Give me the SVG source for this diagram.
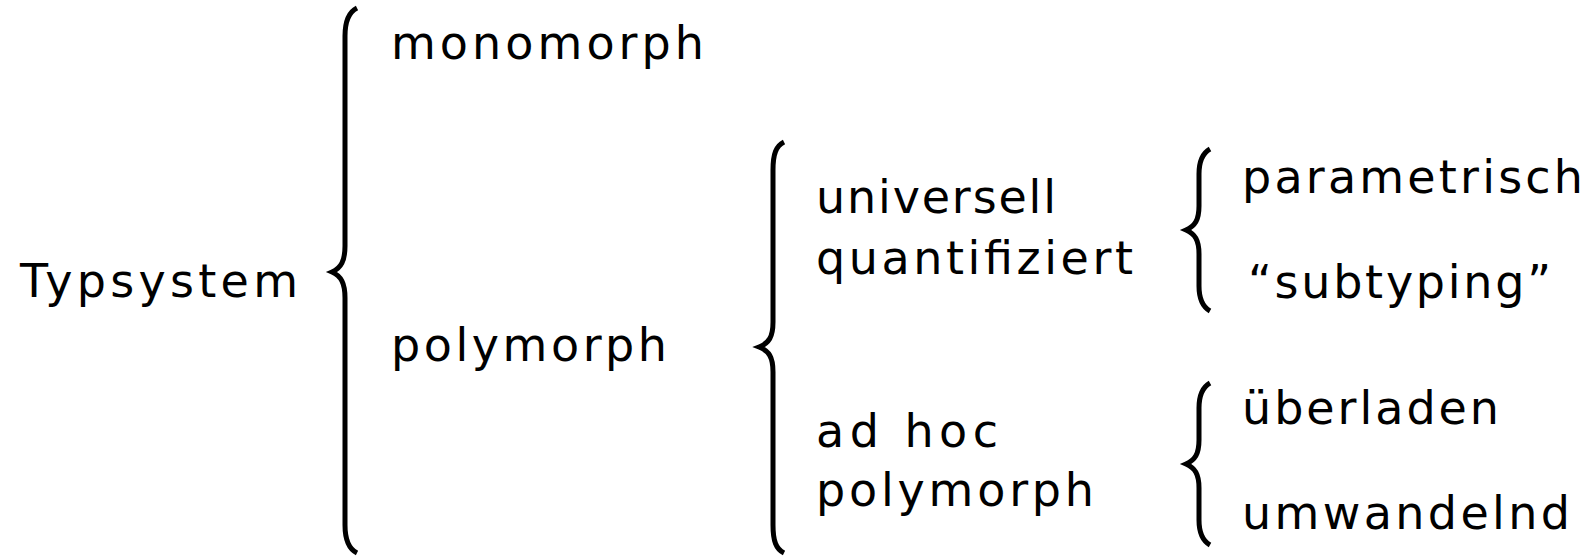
<svg xmlns="http://www.w3.org/2000/svg" width="1593" height="557" viewBox="0 0 1593 557">
  <style>
    .lbl { font-family: "DejaVu Sans", "Liberation Sans", sans-serif; font-size: 46px; fill: #000; }
    .brace { fill: none; stroke: #000; stroke-width: 5; stroke-linecap: butt; stroke-linejoin: miter; }
  </style>
  <rect width="1593" height="557" fill="#fff"/>

  <!-- braces that tie each term to its subdivisions -->
  <g id="connectors">
    <path class="brace" d="M 357 8 C 349 12, 345 20, 345 36 L 345 246 C 345 261, 341 268, 332 272 C 341 276, 345 283, 345 298 L 345 525 C 345 541, 349 549, 357 553"/>
    <path class="brace" d="M 784 142 C 776 146, 773 154, 773 170 L 773 322 C 773 337, 769 343, 759 347 C 769 351, 773 357, 773 372 L 773 525 C 773 541, 776 549, 784 553"/>
    <path class="brace" d="M 1210 149 C 1203 153, 1199 160, 1199 174 L 1199 206 C 1199 220, 1195 226, 1186 230 C 1195 234, 1199 240, 1199 254 L 1199 286 C 1199 300, 1203 307, 1210 311"/>
    <path class="brace" d="M 1210 383 C 1203 387, 1199 394, 1199 408 L 1199 440 C 1199 454, 1195 460, 1186 464 C 1195 468, 1199 474, 1199 488 L 1199 520 C 1199 534, 1203 541, 1210 545"/>
  </g>

  <g id="typsystem"><text class="lbl" x="20" y="297" textLength="278" lengthAdjust="spacing">Typsystem</text></g>
  <g id="monomorph"><text class="lbl" x="391" y="59" textLength="313" lengthAdjust="spacing">monomorph</text></g>
  <g id="polymorph"><text class="lbl" x="391" y="361" textLength="276" lengthAdjust="spacing">polymorph</text></g>
  <g id="universell">
    <text class="lbl" x="816" y="213" textLength="240" lengthAdjust="spacing">universell</text>
    <text class="lbl" x="816" y="274" textLength="317" lengthAdjust="spacing">quantifiziert</text>
  </g>
  <g id="adhoc">
    <text class="lbl" x="816" y="447" textLength="182" lengthAdjust="spacing">ad hoc</text>
    <text class="lbl" x="816" y="506" textLength="278" lengthAdjust="spacing">polymorph</text>
  </g>
  <g id="parametrisch"><text class="lbl" x="1242" y="193" textLength="341" lengthAdjust="spacing">parametrisch</text></g>
  <g id="subtyping"><text class="lbl" x="1248" y="298" textLength="303" lengthAdjust="spacing">“subtyping”</text></g>
  <g id="ueberladen"><text class="lbl" x="1242" y="424" textLength="257" lengthAdjust="spacing">überladen</text></g>
  <g id="umwandelnd"><text class="lbl" x="1242" y="529" textLength="328" lengthAdjust="spacing">umwandelnd</text></g>
</svg>
